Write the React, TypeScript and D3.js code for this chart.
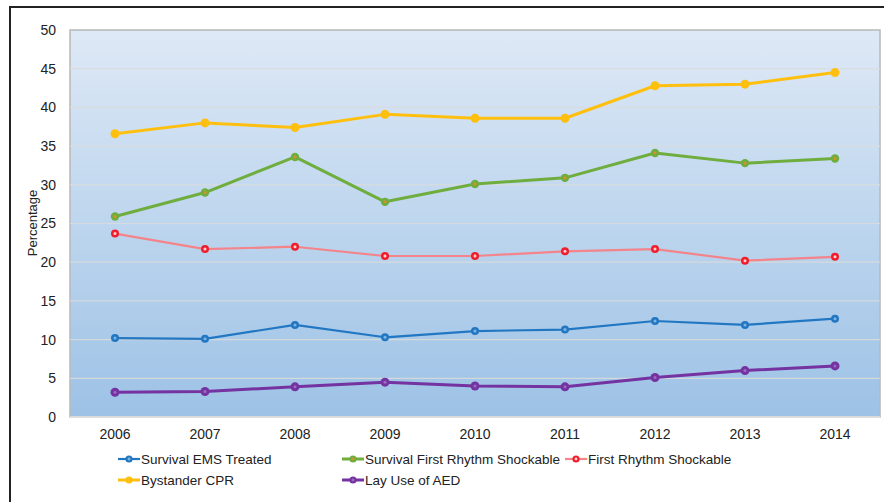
import * as d3 from "d3";

const years = ["2006", "2007", "2008", "2009", "2010", "2011", "2012", "2013", "2014"];
const yTicks = [0, 5, 10, 15, 20, 25, 30, 35, 40, 45, 50];

const survivalEms = [10.2, 10.1, 11.9, 10.3, 11.1, 11.3, 12.4, 11.9, 12.7];
const survivalShockable = [25.9, 29.0, 33.6, 27.8, 30.1, 30.9, 34.1, 32.8, 33.4];
const firstRhythm = [23.7, 21.7, 22.0, 20.8, 20.8, 21.4, 21.7, 20.2, 20.7];
const bystanderCpr = [36.6, 38.0, 37.4, 39.1, 38.6, 38.6, 42.8, 43.0, 44.5];
const layAed = [3.2, 3.3, 3.9, 4.5, 4.0, 3.9, 5.1, 6.0, 6.6];

type Series = {
  name: string;
  values: number[];
  line: string;
  marker: string;
  center: string;
  width: number;
  r: number;
};

const series: Series[] = [
  { name: "Survival EMS Treated", values: survivalEms, line: "#2277c2", marker: "#2277c2", center: "#7fb3e0", width: 2.2, r: 4 },
  { name: "Survival First Rhythm Shockable", values: survivalShockable, line: "#6fad3f", marker: "#6fad3f", center: "#d9902a", width: 3, r: 4.2 },
  { name: "First Rhythm Shockable", values: firstRhythm, line: "#f3848a", marker: "#f01e2c", center: "#ffd0d0", width: 2.2, r: 4 },
  { name: "Bystander CPR", values: bystanderCpr, line: "#ffbf0f", marker: "#ffbf0f", center: "#ffbf0f", width: 3, r: 4.5 },
  { name: "Lay Use of AED", values: layAed, line: "#7433a0", marker: "#7433a0", center: "#9a6cc0", width: 3, r: 4.5 },
];

// legend order: row 1 = first three, row 2 = last two
const legendPos = [
  { x: 118, y: 459 },
  { x: 342, y: 459 },
  { x: 565, y: 459 },
  { x: 118, y: 480 },
  { x: 342, y: 480 },
];

const font = "'Liberation Sans', Arial, sans-serif";

export default function App() {
  const left = 70, right = 880, top = 30, bottom = 417;

  const x = d3.scaleBand<string>().domain(years).range([left, right]);
  const y = d3.scaleLinear().domain([0, 50]).range([bottom, top]);

  const line = d3
    .line<number>()
    .x((d, i) => (x(years[i]) as number) + x.bandwidth() / 2)
    .y(d => y(d));

  return (
    <svg
      width={884}
      height={502}
      style={{ position: "fixed", left: 0, top: 0, background: "#fff" }}
      fontFamily={font}
    >
      <defs>
        <linearGradient id="bg" x1="0" y1="0" x2="0" y2="1">
          <stop offset="0%" stopColor="#dee9f6" />
          <stop offset="100%" stopColor="#9dc2e6" />
        </linearGradient>
      </defs>

      {/* outer frame */}
      <rect x={10} y={7} width={890} height={510} fill="none" stroke="#222" strokeWidth={2} />

      {/* plot area */}
      <rect x={left} y={top} width={right - left} height={bottom - top} fill="url(#bg)" stroke="#b8b8b8" strokeWidth={1.5} />

      {yTicks.map(t => (
        <g key={t}>
          {t > 0 && t < 50 && (
            <line x1={left} x2={right} y1={y(t)} y2={y(t)} stroke="#dcdcdc" strokeWidth={1.2} opacity={0.85} />
          )}
          <text x={56} y={y(t)} dy="0.35em" textAnchor="end" fontSize={14} fill="#222">
            {t}
          </text>
        </g>
      ))}
      <line x1={left} x2={right} y1={bottom} y2={bottom} stroke="#e4e4e4" strokeWidth={1.5} />

      {years.map(yr => (
        <text key={yr} x={(x(yr) as number) + x.bandwidth() / 2} y={439} textAnchor="middle" fontSize={14} fill="#222">
          {yr}
        </text>
      ))}

      <text transform="translate(37,223) rotate(-90)" textAnchor="middle" fontSize={13} fill="#222">
        Percentage
      </text>

      {series.map(s => (
        <g key={s.name}>
          <path d={line(s.values) as string} fill="none" stroke={s.line} strokeWidth={s.width} strokeLinejoin="round" />
          {s.values.map((v, i) => (
            <g key={i}>
              <circle cx={(x(years[i]) as number) + x.bandwidth() / 2} cy={y(v)} r={s.r} fill={s.marker} />
              <circle cx={(x(years[i]) as number) + x.bandwidth() / 2} cy={y(v)} r={1.5} fill={s.center} />
            </g>
          ))}
        </g>
      ))}

      {series.map((s, i) => {
        const p = legendPos[i];
        return (
          <g key={s.name}>
            <line x1={p.x} x2={p.x + 22} y1={p.y} y2={p.y} stroke={s.line} strokeWidth={s.width} />
            <circle cx={p.x + 11} cy={p.y} r={3.6} fill={s.marker} />
            <circle cx={p.x + 11} cy={p.y} r={1.4} fill={s.center} />
            <text x={p.x + 23} y={p.y} dy="0.35em" fontSize={13.5} fill="#222">
              {s.name}
            </text>
          </g>
        );
      })}
    </svg>
  );
}
